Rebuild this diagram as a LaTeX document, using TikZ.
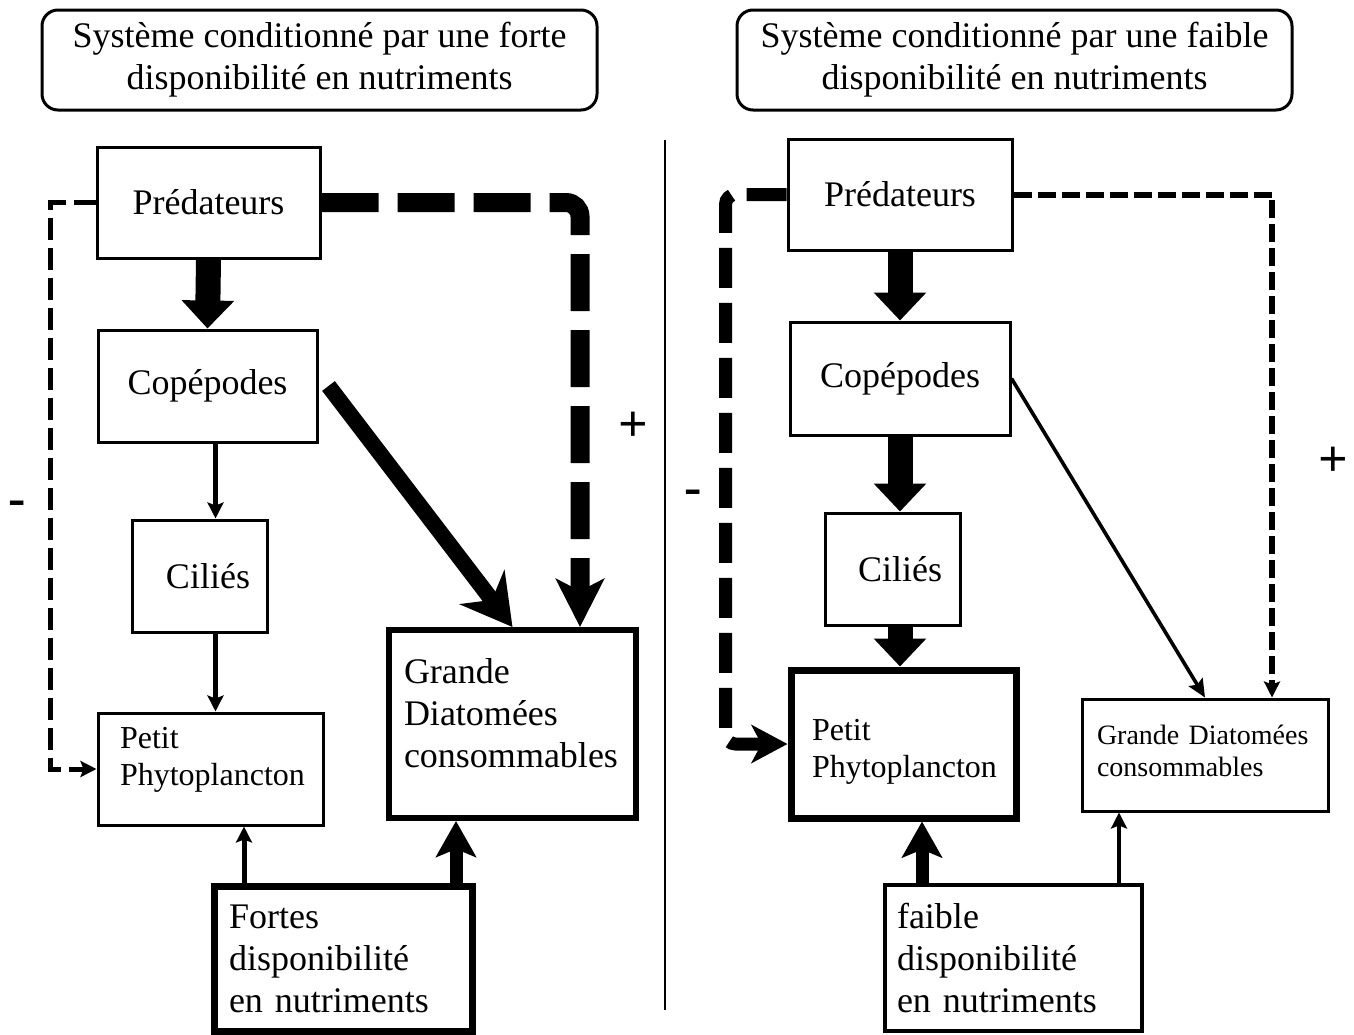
\documentclass[tikz,border=0pt]{standalone}
\usepackage{fontspec}
\setmainfont{Liberation Serif}
\usetikzlibrary{arrows.meta,positioning}

\begin{document}
\begin{tikzpicture}[x=0.5pt,y=-0.5pt,
    font=\fontsize{18}{21}\selectfont,
    box/.style={draw,line width=1.5pt,inner sep=0pt,align=center},
    boxL/.style={draw,inner ysep=0pt,align=left},
    title/.style={draw,line width=1.5pt,rounded corners=8pt,align=center,
                  minimum width=277.5pt,minimum height=50pt,inner sep=0pt},
    sign/.style={font=\fontsize{26}{26}\selectfont\bfseries},
    bigarr/.style={line width=12.5pt,-{Triangle[width=25.5pt,length=14pt]}},
    midarr/.style={line width=6.5pt,-{Stealth[width=20pt,length=18pt,inset=4pt]}},
    thinarr/.style={line width=2.5pt,-{Stealth[width=8pt,length=8pt,inset=1.5pt]}}]
            \useasboundingbox (0,0) rectangle (1354,1034);

            %--- Titles ---
            \node[title] (tL) at (319.5,60) {Système conditionné par une forte\\disponibilité en nutriments};
            \node[title] (tR) at (1014.5,60) {Système conditionné par une faible\\disponibilité en nutriments};

            %--- Separator ---
            \draw[line width=1pt] (665,140) -- (665,1010);

            %--- Left: strong nutrient availability ---
            \node[box,minimum width=111.5pt,minimum height=55.5pt] (lpred) at (208.5,202.5) {Prédateurs};
            \node[box,minimum width=109.5pt,minimum height=56pt] (lcop) at (207.5,386) {Copépodes};
            \node[box,minimum width=67.5pt,minimum height=56pt] (lcil) at (199.5,576) {\hspace*{8.5pt}Ciliés};
            \node[boxL,line width=1.5pt,inner xsep=11pt,text width=90.5pt,minimum height=56pt,
                  font=\fontsize{16}{18.5}\selectfont] (lpet) at (210.5,769) {Petit\\Phytoplancton\\[-5.5pt]\mbox{}};
            \node[boxL,line width=3pt,inner xsep=7.5pt,text width=108.5pt,minimum height=94pt] (lgr)
                  at (512.5,724) {Grande\\Diatomées\\consommables\\[-10pt]\mbox{}};
            \node[boxL,line width=3.5pt,inner xsep=7.5pt,text width=114pt,minimum height=72.5pt] (lfor)
                  at (343,958.5) {Fortes\\disponibilité\\en nutriments};

            \draw[bigarr] (lpred.south) -- (lcop.north);
            \draw[thinarr] ([xshift=4pt]lcop.south) -- ([xshift=8pt]lcil.north);
            \draw[thinarr] ([xshift=8pt]lcil.south) -- ([xshift=2.5pt]lpet.north);
            \draw[line width=8pt,-{Stealth[width=28pt,length=25pt,inset=8pt]}]
                  ([xshift=5pt]lcop.east) -- (lgr.north);
            \draw[line width=9.5pt,dash pattern=on 28.5pt off 9.5pt,rounded corners=7pt,
                  -{Stealth[width=24pt,length=24pt,inset=6pt]}]
                  (lpred.east) -| ([xshift=33.75pt]lgr.north);
            \draw[line width=2.5pt,dash pattern=on 11pt off 4pt,-{Stealth[width=8pt,length=8pt,inset=1.5pt]}]
                  (lpred.west) -- ++(-45,0) |- (lpet.west);
            \draw[thinarr] ([xshift=-49.5pt]lfor.north) -- ([xshift=-49.5pt]lfor.north |- lpet.south);
            \draw[midarr] ([xshift=-28.25pt]lgr.south |- lfor.north) -- ([xshift=-28.25pt]lgr.south);

            \node[sign] (lminus) at (17,508) {-};
            \node[sign] (lplus) at (633,427) {+};

            %--- Right: weak nutrient availability ---
            \node[box,minimum width=112pt,minimum height=55.5pt] (rpred) at (900,194.5) {Prédateurs};
            \node[box,minimum width=110pt,minimum height=56.5pt] (rcop) at (900,378.5) {Copépodes};
            \node[box,minimum width=67.5pt,minimum height=56pt] (rcil) at (892.5,569) {\hspace*{7.5pt}Ciliés};
            \node[boxL,line width=3.5pt,inner xsep=10.5pt,text width=91.5pt,minimum height=74pt,
                  font=\fontsize{16}{18.5}\selectfont] (rpet) at (903.5,744) {\mbox{}\\Petit\\Phytoplancton};
            \node[boxL,line width=1.5pt,inner xsep=7.5pt,text width=108pt,minimum height=56pt,
                  font=\fontsize{14}{16}\selectfont] (rgr) at (1205,755) {Grande Diatomées\\consommables\\[-12pt]\mbox{}};
            \node[boxL,line width=2pt,inner xsep=6pt,text width=116.5pt,minimum height=73pt] (rfai)
                  at (1013.5,958) {faible\\disponibilité\\en nutriments};

            \draw[bigarr] (rpred.south) -- (rcop.north);
            \draw[bigarr] (rcop.south) -- (rcop.south |- rcil.north);
            \draw[bigarr] (rcop.south |- rcil.south) -- (rcop.south |- rpet.north);
            \draw[line width=1.8pt,-{Stealth[width=8pt,length=9pt,inset=1.5pt]}] (rcop.east) -- (rgr.north);
            \draw[line width=3pt,dash pattern=on 9pt off 3pt,-{Stealth[width=8pt,length=8pt,inset=1.5pt]}]
                  (rpred.east) -| ([xshift=33.5pt]rgr.north);
            \draw[line width=6.5pt,dash pattern=on 20pt off 7.5pt,rounded corners=5pt,
                  -{Stealth[width=19pt,length=18pt,inset=5pt]}]
                  (rpred.west) -- ++(-61,0) |- (rpet.west);
            \draw[midarr] ([xshift=9.25pt]rpet.south |- rfai.north) -- ([xshift=9.25pt]rpet.south);
            \draw[line width=2pt,-{Stealth[width=8pt,length=8pt,inset=1.5pt]}]
                  ([xshift=-43pt]rgr.south |- rfai.north) -- ([xshift=-43pt]rgr.south);

            \node[sign] (rminus) at (693,497) {-};
            \node[sign] (rplus) at (1333,462) {+};
          \end{tikzpicture}
\end{document}
